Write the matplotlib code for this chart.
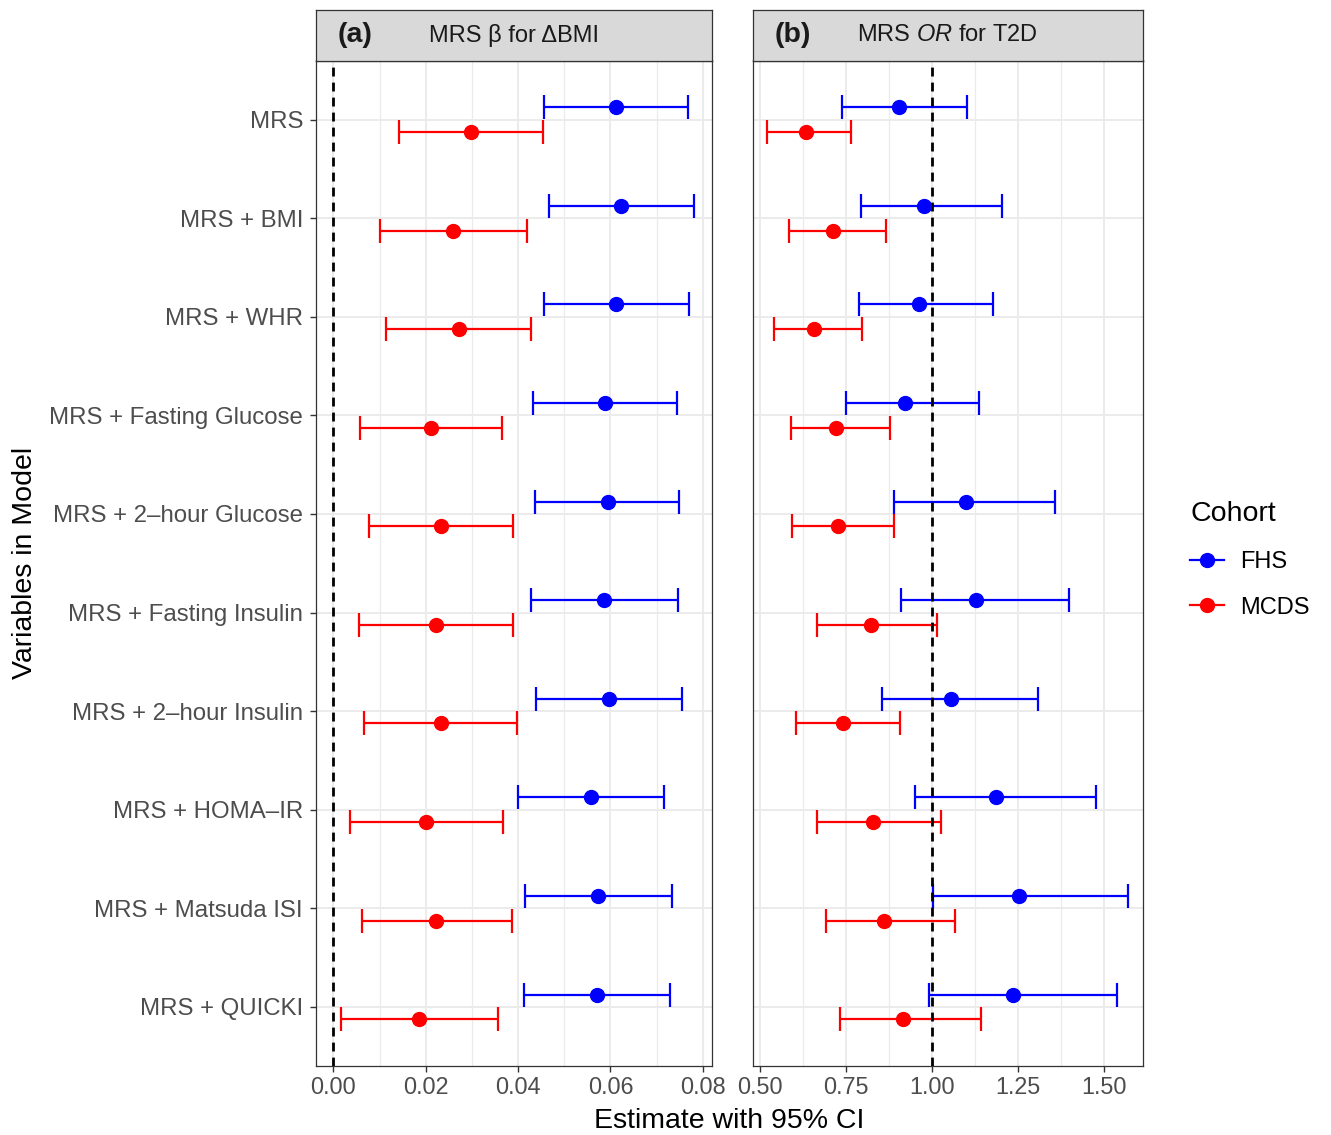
import numpy as np
import matplotlib
matplotlib.use("Agg")
import matplotlib.pyplot as plt
from matplotlib.lines import Line2D

plt.rcParams['font.family'] = ['Liberation Sans', 'DejaVu Sans']
plt.rcParams['mathtext.fontset'] = 'custom'
plt.rcParams['mathtext.rm'] = 'Liberation Sans'
plt.rcParams['mathtext.it'] = 'Liberation Sans:italic'

models = ['MRS', 'MRS + BMI', 'MRS + WHR', 'MRS + Fasting Glucose',
          'MRS + 2\u2013hour Glucose', 'MRS + Fasting Insulin',
          'MRS + 2\u2013hour Insulin', 'MRS + HOMA\u2013IR',
          'MRS + Matsuda ISI', 'MRS + QUICKI']

# (a) beta for delta BMI
fhs_beta    = [0.0612, 0.0623, 0.0613, 0.0589, 0.0594, 0.0586, 0.0597, 0.0559, 0.0574, 0.0571]
fhs_beta_lo = [0.0457, 0.0467, 0.0457, 0.0433, 0.0437, 0.0428, 0.0438, 0.0399, 0.0415, 0.0412]
fhs_beta_hi = [0.0768, 0.0780, 0.0770, 0.0744, 0.0749, 0.0747, 0.0756, 0.0717, 0.0733, 0.0730]
mcds_beta    = [0.0298, 0.0260, 0.0271, 0.0212, 0.0233, 0.0222, 0.0233, 0.0201, 0.0223, 0.0186]
mcds_beta_lo = [0.0143, 0.0101, 0.0114, 0.0058, 0.0077, 0.0056, 0.0067, 0.0035, 0.0061, 0.0017]
mcds_beta_hi = [0.0453, 0.0420, 0.0427, 0.0365, 0.0389, 0.0390, 0.0397, 0.0368, 0.0387, 0.0357]

# (b) OR for T2D
fhs_or    = [0.903, 0.976, 0.962, 0.921, 1.099, 1.127, 1.055, 1.185, 1.254, 1.235]
fhs_or_lo = [0.739, 0.793, 0.787, 0.749, 0.888, 0.909, 0.854, 0.951, 1.003, 0.990]
fhs_or_hi = [1.102, 1.203, 1.177, 1.135, 1.358, 1.398, 1.307, 1.476, 1.569, 1.538]
mcds_or    = [0.633, 0.712, 0.657, 0.721, 0.727, 0.822, 0.741, 0.828, 0.860, 0.915]
mcds_or_lo = [0.521, 0.583, 0.541, 0.590, 0.594, 0.666, 0.604, 0.667, 0.692, 0.733]
mcds_or_hi = [0.763, 0.867, 0.796, 0.878, 0.889, 1.015, 0.908, 1.027, 1.068, 1.143]

W, H = 1331, 1135
fig = plt.figure(figsize=(W / 100, H / 100), dpi=100)

def box(l, t, r, b):
    return [l / W, 1 - b / H, (r - l) / W, (b - t) / H]

grid_c = '#EBEBEB'
edge_c = '#333333'
y = np.arange(len(models))
dodge = 0.125

def panel(rect, cohorts, ref, xlim, major, minor, show_y):
    ax = fig.add_axes(rect)
    ax.set_xlim(*xlim)
    ax.set_ylim(len(models) - 0.4, -0.6)
    ax.set_xticks(major)
    ax.set_xticks(minor, minor=True)
    ax.set_yticks(y)
    ax.grid(True, which='major', color=grid_c, lw=1.4, zorder=0)
    ax.grid(True, which='minor', axis='x', color=grid_c, lw=0.9, zorder=0)
    ax.set_axisbelow(True)
    for sp in ax.spines.values():
        sp.set_color(edge_c)
        sp.set_linewidth(0.9)
    ax.tick_params(axis='both', which='major', colors=edge_c, length=4, width=1,
                   labelcolor='#4D4D4D', pad=3)
    ax.tick_params(axis='x', labelsize=16.8)
    ax.tick_params(axis='y', labelsize=17.3, pad=5)
    ax.tick_params(which='minor', length=0)
    if show_y:
        ax.set_yticklabels(models)
    else:
        ax.tick_params(axis='y', left=False, labelleft=False)
    ax.axvline(ref, color='black', lw=2, ls=(0, (3.2, 2.2)), zorder=3)
    for (est, lo, hi, off, col) in cohorts:
        est = np.array(est); lo = np.array(lo); hi = np.array(hi)
        ax.errorbar(est, y + off, xerr=[est - lo, hi - est], fmt='none',
                    ecolor=col, elinewidth=1.6, capsize=8.5, capthick=1.6, zorder=2)
        ax.plot(est, y + off, 'o', color=col, ms=10, zorder=4)
    return ax

ax_a = panel(box(315.5, 60.5, 712, 1066),
             [(fhs_beta, fhs_beta_lo, fhs_beta_hi, -dodge, '#0000FF'),
              (mcds_beta, mcds_beta_lo, mcds_beta_hi, dodge, '#FF0000')],
             0, (-0.00388, 0.0820), [0, 0.02, 0.04, 0.06, 0.08],
             [0.01, 0.03, 0.05, 0.07], True)
ax_a.set_xticklabels(['0.00', '0.02', '0.04', '0.06', '0.08'])

ax_b = panel(box(752.6, 60.5, 1143, 1066),
             [(fhs_or, fhs_or_lo, fhs_or_hi, -dodge, '#0000FF'),
              (mcds_or, mcds_or_lo, mcds_or_hi, dodge, '#FF0000')],
             1, (0.4785, 1.613), [0.5, 0.75, 1.0, 1.25, 1.5],
             [0.625, 0.875, 1.125, 1.375], False)
ax_b.set_xticklabels(['0.50', '0.75', '1.00', '1.25', '1.50'])

# strips
for (l, r, tag, title) in [(315.5, 712, '(a)', 'MRS \u03b2 for \u0394BMI'),
                           (752.6, 1143, '(b)', 'MRS $\\mathit{OR}$ for T2D')]:
    s = fig.add_axes(box(l, 10, r, 60.5))
    s.set_facecolor('#D9D9D9')
    s.set_xticks([]); s.set_yticks([])
    for sp in s.spines.values():
        sp.set_color(edge_c)
        sp.set_linewidth(0.9)
    s.text(0.5, 0.5, title, transform=s.transAxes, ha='center', va='center',
           fontsize=17, color='#1A1A1A')
    s.text(22 / (r - l), 0.5, tag, transform=s.transAxes, ha='left', va='center',
           fontsize=20.5, fontweight='bold', color='#1A1A1A')

fig.text(729 / W, 1 - 1121 / H, 'Estimate with 95% CI', ha='center', va='center',
         fontsize=20.5, color='black')
fig.text(25 / W, 1 - 563 / H, 'Variables in Model', ha='center', va='center',
         rotation=90, fontsize=20.5, color='black')

handles = [Line2D([], [], color='#0000FF', lw=1.6, marker='o', ms=10),
           Line2D([], [], color='#FF0000', lw=1.6, marker='o', ms=10)]
leg = fig.legend(handles, ['FHS', 'MCDS'], title='Cohort', loc='upper left',
                 bbox_to_anchor=(1181 / W, 1 - 492 / H), frameon=False,
                 fontsize=17, title_fontsize=20.5, handlelength=1.4,
                 handletextpad=0.7, labelspacing=1.0, borderaxespad=0)
leg._legend_box.align = 'left'

fig.savefig('out.png', dpi=100)
